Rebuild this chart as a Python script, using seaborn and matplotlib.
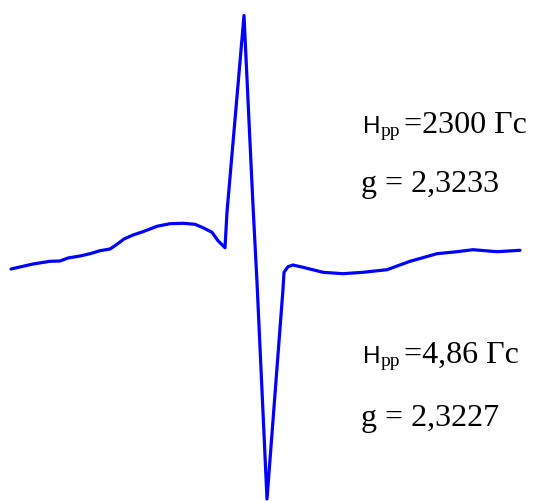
import pandas as pd
import matplotlib.pyplot as plt
import seaborn as sns

# EPR spectrum trace (field position, signal position)
field = [11, 33, 50, 60, 68, 80, 90, 100, 110, 117, 124, 133, 143, 157, 170, 183,
         195, 203, 212, 218, 225, 227, 244, 253, 257, 267, 283, 284, 288, 293,
         303, 323, 343, 363, 387, 410, 437, 457, 473, 497, 520]
signal = [270, 265, 262.3, 262, 259, 257, 254.7, 251.7, 250, 245.3, 240, 236, 232.7,
          227.3, 224.7, 224.3, 225.3, 228.7, 233.3, 241.7, 248.7, 213, 16.5, 206.7,
          283.3, 500, 290, 273.3, 267.7, 266, 268.3, 273.3, 274.7, 273.3, 270.7,
          262.3, 254.7, 252.7, 250.7, 252.7, 251.3]

labels_top = ['=2300 \u0393c', 'g = 2,3233']
labels_bottom = ['=4,86 \u0393c', 'g = 2,3227']

data = pd.DataFrame({'field': field, 'signal': signal})

sns.set_style('white')
fig = plt.figure(figsize=(5.33, 5.02), dpi=100)
ax = fig.add_axes([0, 0, 1, 1])

sns.lineplot(data=data, x='field', y='signal', sort=False, color='#0000ff',
             linewidth=2.3, ax=ax)
ax.set_xlim(0, 533)
ax.set_ylim(502, 0)
ax.axis('off')

serif = 'Liberation Serif'
sans = 'Liberation Sans'


def h_label(y, rest):
    ax.text(363, y, 'H', family=sans, fontsize=17.5, va='baseline', ha='left', color='black')
    ax.text(380.5, y + 3, 'pp', family=serif, fontsize=14, va='baseline', ha='left', color='black')
    ax.text(404, y, rest, family=serif, fontsize=23, va='baseline', ha='left', color='black')


h_label(133, labels_top[0])
ax.text(361, 192, labels_top[1], family=serif, fontsize=23, va='baseline', ha='left', color='black')
h_label(363, labels_bottom[0])
ax.text(361, 426, labels_bottom[1], family=serif, fontsize=23, va='baseline', ha='left', color='black')

plt.savefig('out.png', dpi=100)
